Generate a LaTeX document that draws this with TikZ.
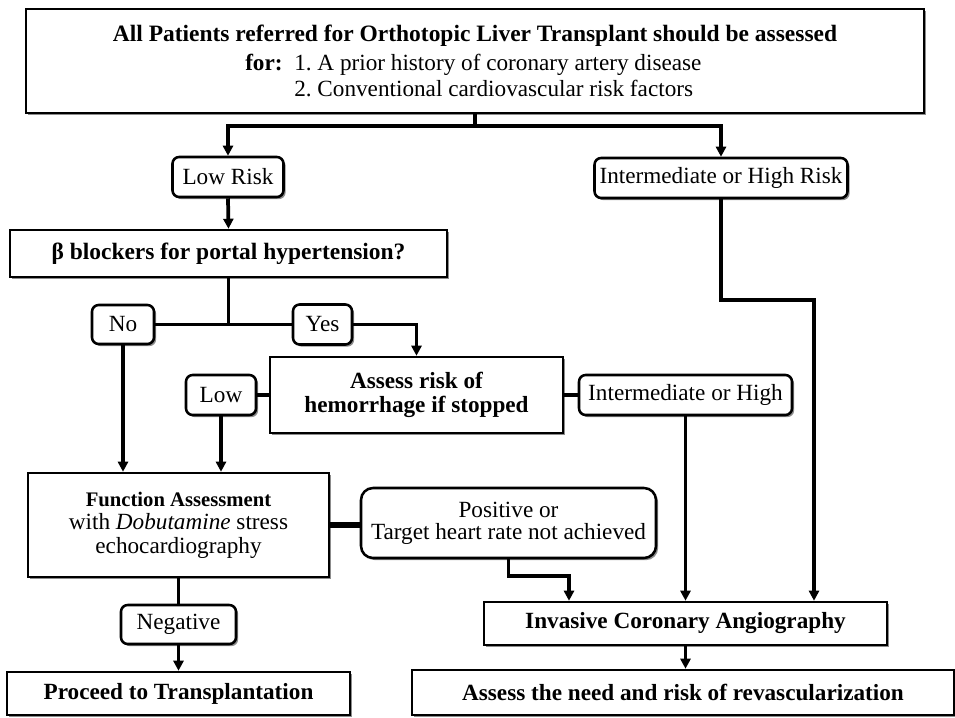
\documentclass[tikz,border=0pt]{standalone}
\usepackage{fontspec}
\setmainfont{Liberation Serif}
\usetikzlibrary{arrows.meta,shadows,calc}

\begin{document}
\begin{tikzpicture}[x=0.75pt,y=0.75pt,yscale=-1,xscale=1,
  font=\fontsize{17.4}{20}\selectfont,
  box/.style={draw, line width=1.9pt, fill=white, inner sep=0pt, align=center,
    drop shadow={shadow xshift=1.6pt, shadow yshift=-1.6pt, fill=black, opacity=0.45}},
  rbox/.style={box, rounded corners=5pt},
  conn/.style={line width=2.8pt},
  arr/.style={conn, -{Triangle[length=7.5pt,width=7.5pt]}}]
%set diagram size to 955 x 717
\useasboundingbox (0,0) rectangle (955,717);

%Shape: Rectangle [top box]
\node[box, minimum width=673.5pt, minimum height=78pt] (top) at (475,61) {};
% Text Node
\node[anchor=base, inner sep=0pt, font=\fontsize{17.6}{20}\selectfont\bfseries] (toptitle) at (475,42) {All Patients referred for Orthotopic Liver Transplant should be assessed};
% Text Node
\node[anchor=base west, inner sep=0pt, font=\fontsize{17.4}{20}\selectfont\bfseries] (topfor) at (245,70) {for:};
% Text Node
\node[anchor=base west, inner sep=0pt] (topitema) at (294,70) {1.\ A prior history of coronary artery disease};
% Text Node
\node[anchor=base west, inner sep=0pt] (topitemb) at (294,96) {2.\ Conventional cardiovascular risk factors};

%Shape: Rounded Rectangle [risk]
\node[rbox, minimum width=83.25pt, minimum height=30pt] (lowrisk) at (228,177) {Low Risk};
\node[rbox, minimum width=189.75pt, minimum height=30pt] (highrisk) at (721,178) {Intermediate or High Risk};

%Shape: Rectangle [beta blockers]
\node[box, minimum width=327.75pt, minimum height=35.25pt, font=\fontsize{17.6}{20}\selectfont\bfseries] (beta) at (228.5,253.5) {β blockers for portal hypertension?};

%Shape: Rounded Rectangle [no / yes]
\node[rbox, minimum width=46.5pt, minimum height=29.25pt] (no) at (123,324.5) {No};
\node[rbox, minimum width=44.25pt, minimum height=30pt] (yes) at (322.5,324.5) {Yes};

%Shape: Rectangle [hemorrhage]
\node[box, minimum width=219.75pt, minimum height=57pt, font=\fontsize{17.4}{17.5}\selectfont\bfseries] (assess) at (416.5,395) {Assess risk of\\hemorrhage if stopped};
\node[rbox, minimum width=52.5pt, minimum height=30pt] (low) at (221,395) {Low};
\node[rbox, minimum width=159.75pt, minimum height=30pt] (imh) at (685.5,395) {Intermediate or High};

%Shape: Rectangle [stress echo]
\node[box, minimum width=225.75pt, minimum height=78pt, font=\fontsize{17.4}{17.5}\selectfont] (func) at (178.5,525) {{\fontsize{15.5}{17.5}\selectfont\bfseries Function Assessment}\\with \textit{Dobutamine} stress\\echocardiography};
\node[rbox, rounded corners=9pt, minimum width=221.25pt, minimum height=52.5pt, font=\fontsize{17.4}{16.5}\selectfont] (pos) at (508.5,523) {Positive or\\Target heart rate not achieved};
\node[rbox, minimum width=86.25pt, minimum height=29.25pt] (neg) at (178.5,624.5) {Negative};

%Shape: Rectangle [angiography]
\node[box, minimum width=302.25pt, minimum height=32.25pt, font=\fontsize{17.4}{20}\selectfont\bfseries] (inv) at (685.5,623.5) {Invasive Coronary Angiography};

%Shape: Rectangle [end boxes]
\node[box, minimum width=257.25pt, minimum height=32.25pt, font=\fontsize{17.4}{20}\selectfont\bfseries] (proceed) at (178.5,693.5) {Proceed to Transplantation};
\node[box, minimum width=406.5pt, minimum height=33.75pt, font=\fontsize{17.4}{20}\selectfont\bfseries] (need) at (683,692.5) {Assess the need and risk of revascularization};

%Connectors
\coordinate (bend) at (814,300);
\draw[conn] (top.south) -- ++(0,12) coordinate (split);
\draw[conn, {Triangle[length=7.5pt,width=7.5pt]}-{Triangle[length=7.5pt,width=7.5pt]}] (lowrisk.north) |- (split) -| (highrisk.north);
\draw[arr] (lowrisk.south) -- (beta.north);
\draw[conn] (beta.south) -- (beta.south |- no.east);
\draw[conn] (no.east) -- (yes.west);
\draw[arr] (yes.east) -| (assess.north);
\draw[conn] (low.east) -- (assess.west);
\draw[conn] (assess.east) -- (imh.west);
\draw[arr] (no.south) -- (no.south |- func.north);
\draw[arr] (low.south) -- (low.south |- func.north);
\draw[arr] (imh.south) -- (imh.south |- inv.north);
\draw[arr] (highrisk.south) |- (bend) -- (bend |- inv.north);
\draw[conn, line width=4.5pt] (func.east) -- (func.east -| pos.west);
\draw[arr] (pos.south) -- ++(0,17) -| ($(inv.north)+(-116.5,0)$);
\draw[conn] (func.south) -- (neg.north);
\draw[arr] (neg.south) -- (proceed.north);
\draw[arr] (inv.south) -- (inv.south |- need.north);

\end{tikzpicture}
\end{document}
